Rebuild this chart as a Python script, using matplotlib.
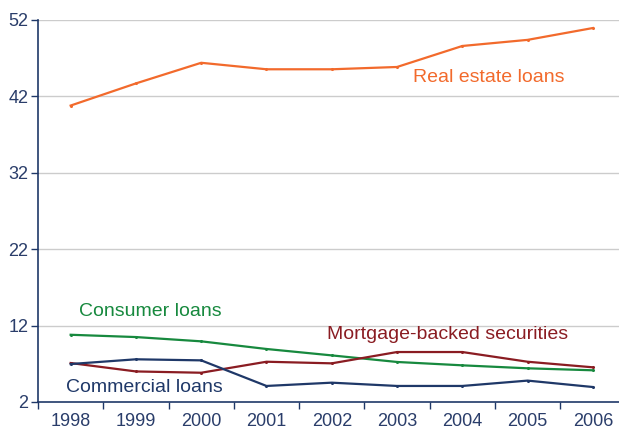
import matplotlib
matplotlib.use("Agg")
import matplotlib.pyplot as plt
from matplotlib.ticker import FixedLocator

plt.rcParams['font.family'] = ['Liberation Sans', 'DejaVu Sans']

years = ["1998", "1999", "2000", "2001", "2002", "2003", "2004", "2005", "2006"]
real_estate = [40.8, 43.7, 46.4, 45.55, 45.55, 45.85, 48.6, 49.4, 50.95]
consumer = [10.8, 10.5, 9.94, 8.94, 8.1, 7.24, 6.8, 6.41, 6.15]
mortgage_backed = [7.1, 6.0, 5.83, 7.27, 7.06, 8.54, 8.54, 7.27, 6.54]
commercial = [6.97, 7.59, 7.45, 4.1, 4.53, 4.1, 4.1, 4.8, 3.96]
yticks = [2, 12, 22, 32, 42, 52]

c_orange = '#F26A2C'
c_green = '#17893E'
c_red = '#8A1C22'
c_navy = '#1F3868'
c_text = '#2A3D6A'

fig = plt.figure(figsize=(6.19, 4.32), dpi=100)
ax = fig.add_axes([38/619, 30/432, (619-38)/619, 382/432])

x = list(range(len(years)))
for vals, col in [(real_estate, c_orange), (consumer, c_green),
                  (mortgage_backed, c_red), (commercial, c_navy)]:
    ax.plot(x, vals, color=col, lw=1.6, marker='o', markersize=1.2, zorder=3)

ax.set_ylim(2, 52)
ax.set_xlim(-0.5, 8.4)
ax.set_yticks(yticks)
ax.set_yticklabels([str(t) for t in yticks])
ax.set_xticks(x)
ax.set_xticklabels(years)
ax.xaxis.set_minor_locator(FixedLocator([i - 0.5 for i in range(len(years))]))
ax.tick_params(axis='x', which='major', length=0, pad=8, labelsize=13, colors=c_text)
ax.tick_params(axis='x', which='minor', length=5, width=1, color=c_navy, direction='out')
ax.tick_params(axis='y', length=5, width=1, color=c_navy, labelsize=13, labelcolor=c_text, pad=2)

for t in yticks[1:]:
    ax.axhline(t, color='#CCCCCC', lw=1.0, zorder=1)

for s in ['top', 'right']:
    ax.spines[s].set_visible(False)
for s in ['left', 'bottom']:
    ax.spines[s].set_color(c_navy)
    ax.spines[s].set_linewidth(1.2)

def label(px, py, txt, col):
    xd, yd = ax.transData.inverted().transform(fig.transFigure.transform((px/619, 1 - py/432)))
    ax.text(xd, yd, txt, color=col, fontsize=14, ha='left', va='center')

label(413, 77, "Real estate loans", c_orange)
label(79, 312, "Consumer loans", c_green)
label(327, 335, "Mortgage-backed securities", c_red)
label(66, 387, "Commercial loans", c_navy)

fig.savefig("out.png", dpi=100)
